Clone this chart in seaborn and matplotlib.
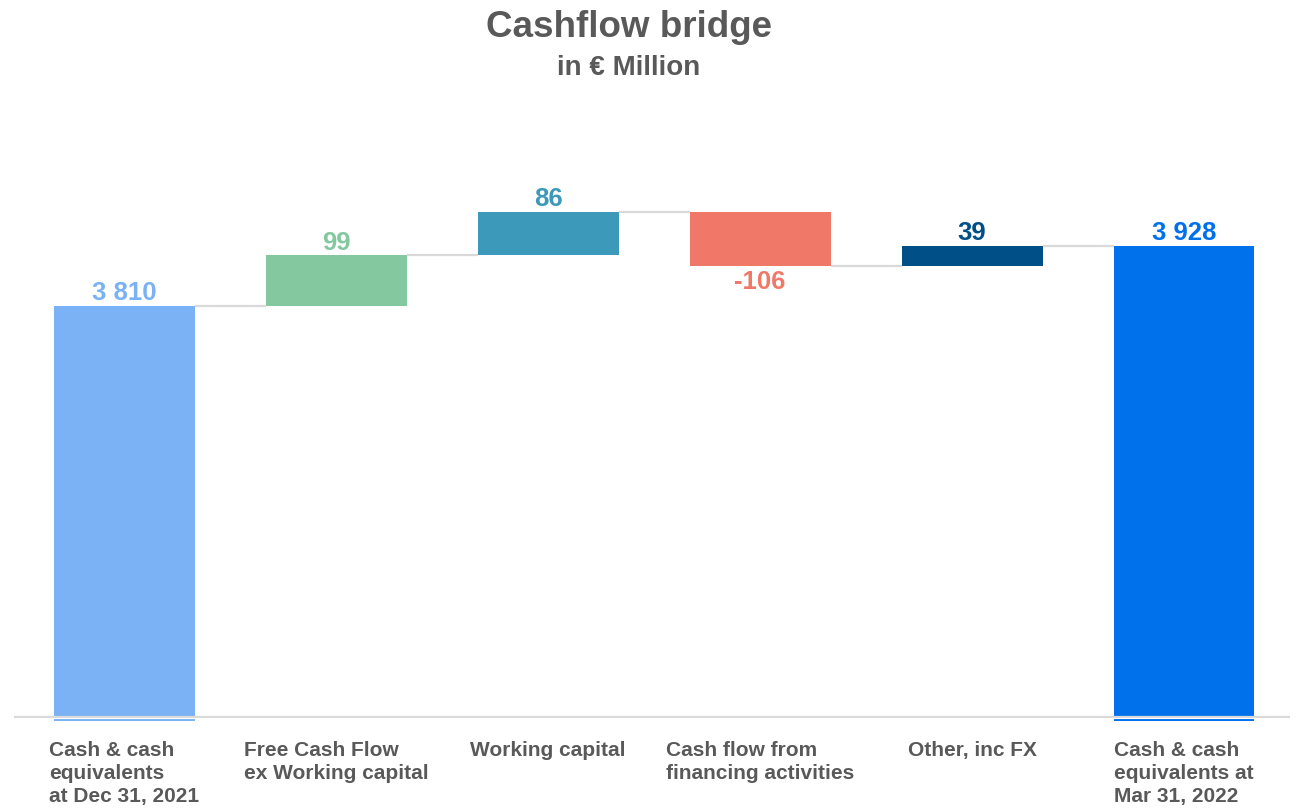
import matplotlib
matplotlib.use("Agg")
import matplotlib.pyplot as plt
import seaborn as sns
import numpy as np
import pandas as pd

categories = [
    "Cash & cash\nequivalents\nat Dec 31, 2021",
    "Free Cash Flow\nex Working capital",
    "Working capital",
    "Cash flow from\nfinancing activities",
    "Other, inc FX",
    "Cash & cash\nequivalents at\nMar 31, 2022",
]
values = [3810, 99, 86, -106, 39, 3928]
is_total = [True, False, False, False, False, True]
colors = ["#7AB2F5", "#84C8A0", "#3D99BA", "#F07868", "#004F87", "#0070EB"]

# waterfall geometry derived from the values
bottoms, heights, levels = [], [], []
running = 0
for v, tot in zip(values, is_total):
    if tot:
        bottoms.append(0)
        heights.append(v)
        running = v
    else:
        bottoms.append(running if v >= 0 else running + v)
        heights.append(abs(v))
        running += v
    levels.append(running)

df = pd.DataFrame({"cat": categories, "height": heights})

sns.set_theme(style="white")
plt.rcParams["font.family"] = ["Liberation Sans", "DejaVu Sans"]
plt.rcParams["font.weight"] = "bold"

fig = plt.figure(figsize=(12.97, 8.09), dpi=100)
ax = fig.add_axes([14 / 1297, 1 - 720.6 / 809, 1276 / 1297, (720.6 - 100) / 809])

sns.barplot(data=df, x="cat", y="height", bottom=bottoms, width=0.665,
            color=colors[0], saturation=1, errorbar=None, ax=ax,
            linewidth=0, zorder=2)
for patch, c in zip(ax.patches, colors):
    patch.set_facecolor(c)
    patch.set_edgecolor("none")

ax.set_xlim(-0.52, 5.5)
ax.set_ylim(2993, 4215)

# baseline
ax.axhline(3000, color="#D9D9D9", lw=1.6, zorder=3)
ax.axhline(2997.3, color="white", lw=0.8, zorder=3)

# connectors
hw = 0.665 / 2
for i in range(len(values) - 1):
    ax.plot([i + hw, i + 1 - hw], [levels[i], levels[i]], color="#D9D9D9",
            lw=1.6, zorder=1, solid_capstyle="butt")

# data labels
for i, (v, b, h, c) in enumerate(zip(values, bottoms, heights, colors)):
    txt = f"{v:,}".replace(",", " ")
    if v >= 0:
        ax.annotate(txt, (i, b + h), xytext=(0, 0.3), textcoords="offset points",
                    ha="center", va="bottom", fontsize=18.5, fontweight="bold", color=c)
    else:
        ax.annotate(txt, (i, b), xytext=(0, -3), textcoords="offset points",
                    ha="center", va="top", fontsize=18.5, fontweight="bold", color=c)

ax.set_xlabel("")
ax.set_ylabel("")
ax.set_yticks([])
ax.tick_params(axis="x", length=0, pad=14.5, labelsize=15, labelcolor="#595959")
for lbl in ax.get_xticklabels():
    lbl.set_multialignment("left")
    lbl.set_fontweight("bold")
    lbl.set_linespacing(1.28)
    lbl.set_verticalalignment("top")
for s in ax.spines.values():
    s.set_visible(False)

fig.text(629 / 1297, 1 - 37 / 809, "Cashflow bridge", ha="center", va="baseline",
         fontsize=26.5, fontweight="bold", color="#595959")
fig.text(629 / 1297, 1 - 75 / 809, "in € Million", ha="center", va="baseline",
         fontsize=20, fontweight="bold", color="#595959")

fig.savefig("out.png", dpi=100)
